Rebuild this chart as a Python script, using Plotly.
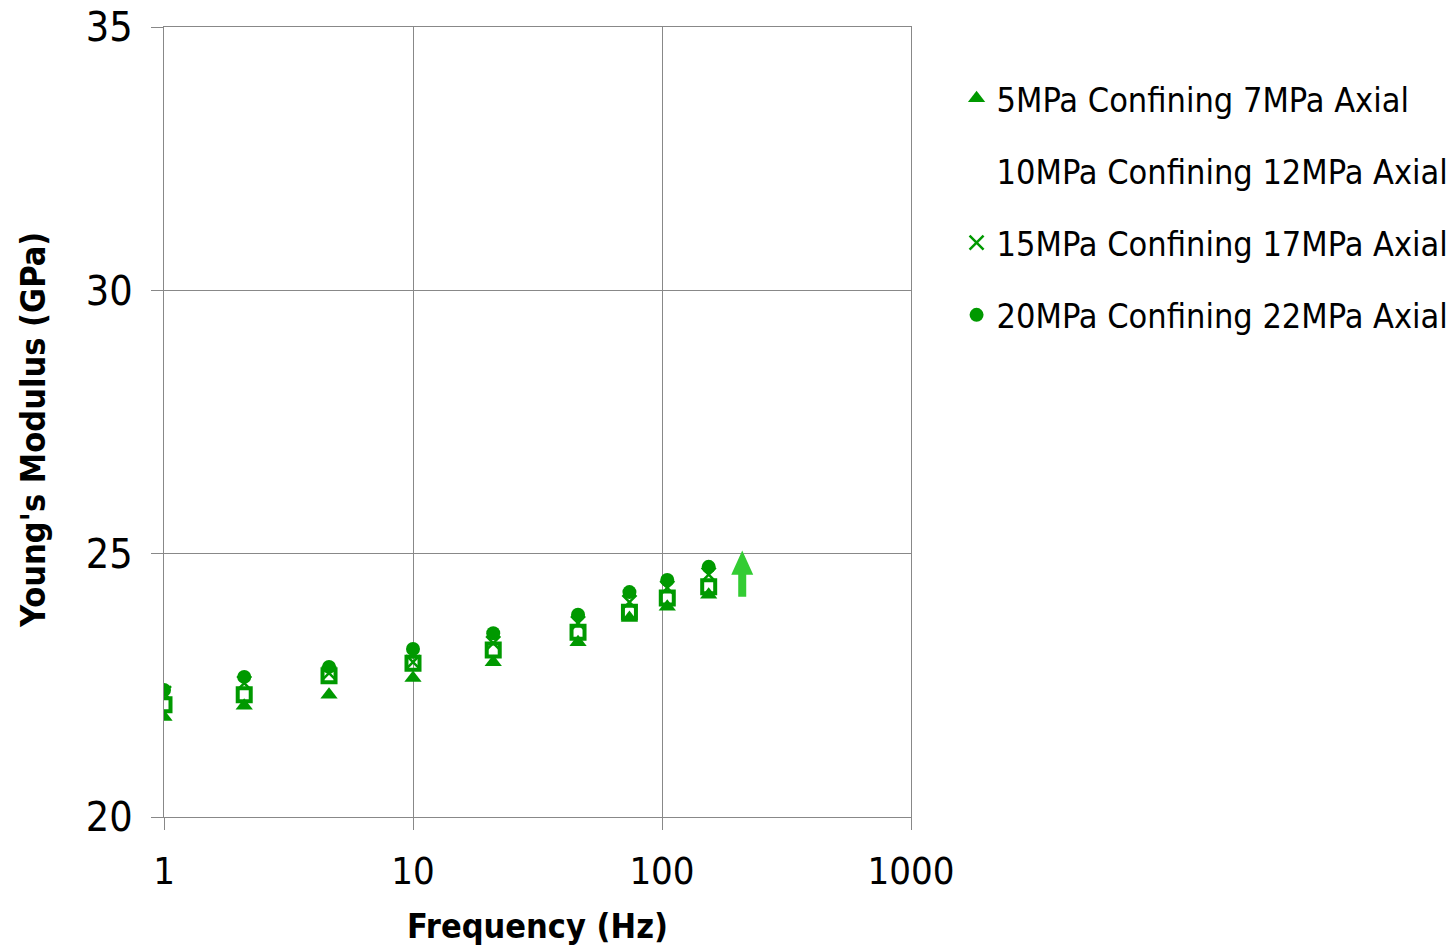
import plotly.graph_objects as go

# Test frequencies (Hz)
frequency = [1, 2.1, 4.6, 10, 21, 46, 74, 105, 154]

# Young's modulus (GPa) for each confining/axial stress condition
e_5_7 = [21.90, 22.11, 22.32, 22.64, 22.94, 23.32, 23.78, 23.99, 24.22]
e_10_12 = [22.13, 22.32, 22.68, 22.92, 23.17, 23.51, 23.89, 24.16, 24.37]
e_15_17 = [22.35, 22.54, 22.73, 22.94, 23.30, 23.68, 24.08, 24.35, 24.60]
e_20_22 = [22.41, 22.66, 22.85, 23.19, 23.49, 23.84, 24.27, 24.50, 24.75]

names = [
    "5MPa Confining 7MPa Axial",
    "10MPa Confining 12MPa Axial",
    "15MPa Confining 17MPa Axial",
    "20MPa Confining 22MPa Axial",
]

# Trend arrow: frequency and modulus span
arrow_freq = 210
arrow_bottom, arrow_neck, arrow_tip = 24.18, 24.60, 25.06

GREEN = "#009900"
FONT = "DejaVu Sans Condensed, DejaVu Sans, sans-serif"

fig = go.Figure()

fig.add_trace(go.Scatter(
    x=frequency, y=e_5_7, mode="markers", name=names[0], legendgroup="a",
    marker=dict(symbol="triangle-up", size=15, color=GREEN, line=dict(width=0)),
))
fig.add_trace(go.Scatter(
    x=frequency, y=e_10_12, mode="markers", name=names[1], showlegend=False,
    marker=dict(symbol="square-open", size=13, color=GREEN, line=dict(width=4, color=GREEN)),
))
# legend row for the square series carries no visible symbol
fig.add_trace(go.Scatter(
    x=[None], y=[None], mode="markers", name=names[1], legendgroup="b",
    marker=dict(symbol="square", size=10, color="rgba(0,0,0,0)"),
))
fig.add_trace(go.Scatter(
    x=frequency, y=e_15_17, mode="markers", name=names[2], legendgroup="c",
    marker=dict(symbol="x-thin", size=14, color=GREEN, line=dict(width=2.5, color=GREEN)),
))
fig.add_trace(go.Scatter(
    x=frequency, y=e_20_22, mode="markers", name=names[3], legendgroup="d",
    marker=dict(symbol="circle", size=14, color=GREEN, line=dict(width=0)),
))

# Upward arrow drawn in data y, pixel x relative to the arrow frequency
hw, sw = 11, 4
path = (
    f"M{-sw},{arrow_bottom} L{sw},{arrow_bottom} L{sw},{arrow_neck} "
    f"L{hw},{arrow_neck} L0,{arrow_tip} L{-hw},{arrow_neck} L{-sw},{arrow_neck} Z"
)
fig.add_shape(
    type="path", xref="x", yref="y", xsizemode="pixel", xanchor=arrow_freq,
    path=path, fillcolor="#33CC33", line=dict(width=0), layer="above",
)

# Y-axis title
fig.add_annotation(
    text="<b>Young's Modulus (GPa)</b>", textangle=-90,
    xref="paper", yref="paper", x=0, y=0.49, xanchor="center", yanchor="middle",
    xshift=-131, showarrow=False,
    font=dict(family=FONT, size=34, color="black"),
)

fig.update_layout(
    width=1453, height=948,
    margin=dict(l=164, r=542, t=27, b=131, autoexpand=False),
    paper_bgcolor="white", plot_bgcolor="white",
    font=dict(family=FONT, color="black"),
    showlegend=True,
    legend=dict(
        x=1.061, y=0.946, xanchor="left", yanchor="top",
        font=dict(family=FONT, size=34, color="black"),
        traceorder="grouped", tracegroupgap=25,
        itemsizing="trace", bgcolor="rgba(0,0,0,0)",
    ),
)

fig.update_xaxes(
    type="log", range=[0, 3], automargin=False,
    tickvals=[1, 10, 100, 1000], ticktext=["1", "10", "100", "1000"],
    ticks="outside", ticklen=12, tickcolor="#888888", tickwidth=1,
    ticklabelstandoff=8,
    showgrid=True, gridcolor="#888888", gridwidth=1,
    showline=True, linecolor="#888888", linewidth=1, mirror=True,
    zeroline=False,
    tickfont=dict(family=FONT, size=38, color="black"),
    title=dict(text="<b>Frequency (Hz)</b>", font=dict(family=FONT, size=34, color="black"), standoff=22),
)
fig.update_yaxes(
    range=[20, 35], tickvals=[20, 25, 30, 35], automargin=False,
    ticks="outside", ticklen=12, tickcolor="#888888", tickwidth=1,
    ticklabelstandoff=10,
    showgrid=True, gridcolor="#888888", gridwidth=1,
    showline=True, linecolor="#888888", linewidth=1, mirror=True,
    zeroline=False,
    tickfont=dict(family=FONT, size=41, color="black"),
)

fig.write_html("out.html")
